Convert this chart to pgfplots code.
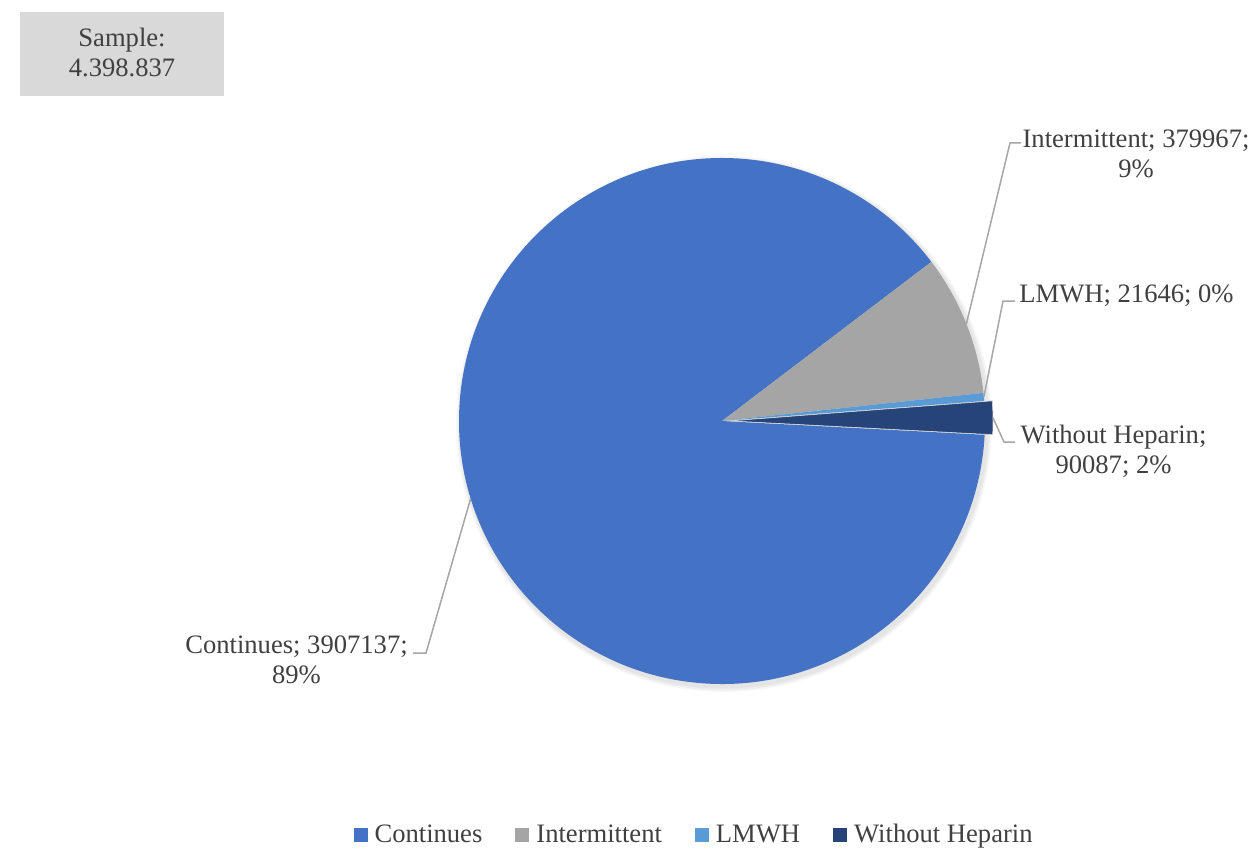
\documentclass[border=0pt]{standalone}
\usepackage{pgfplots}
\usepackage{pgfplotstable}
\pgfplotsset{compat=1.18}
\usepackage{fontspec}
\setmainfont{Liberation Serif}

\definecolor{cCont}{HTML}{4472C4}
\definecolor{cInt}{HTML}{A5A5A5}
\definecolor{cLmwh}{HTML}{5B9BD5}
\definecolor{cWo}{HTML}{264478}
\definecolor{txt}{HTML}{404040}
\definecolor{lead}{HTML}{A6A6A6}
\definecolor{boxbg}{HTML}{D9D9D9}

\pgfplotstableread{
label value
Continues 3907137
Intermittent 379967
LMWH 21646
WithoutHeparin 90087
}\piedata

\newcommand\lbl{\fontsize{13.3}{15}\selectfont}
\def\R{131.5pt}

\begin{document}
\begin{tikzpicture}
% slice sizes in degrees
\pgfkeys{/pgf/fpu=true,/pgf/fpu/output format=fixed}
\pgfplotstablegetelem{0}{value}\of\piedata\let\vA\pgfplotsretval
\pgfplotstablegetelem{1}{value}\of\piedata\let\vB\pgfplotsretval
\pgfplotstablegetelem{2}{value}\of\piedata\let\vC\pgfplotsretval
\pgfplotstablegetelem{3}{value}\of\piedata\let\vD\pgfplotsretval
\pgfmathsetmacro\tot{\vA+\vB+\vC+\vD}
\pgfmathsetmacro\dA{360*\vA/\tot}
\pgfmathsetmacro\dB{360*\vB/\tot}
\pgfmathsetmacro\dC{360*\vC/\tot}
\pgfmathsetmacro\dD{360*\vD/\tot}
\pgfkeys{/pgf/fpu=false}
% clockwise from -3 deg
\pgfmathsetmacro\aA{-3}
\pgfmathsetmacro\aB{\aA-\dA}
\pgfmathsetmacro\aC{\aB-\dB}
\pgfmathsetmacro\aD{\aC-\dC}
\pgfmathsetmacro\aE{\aD-\dD}
\pgfmathsetmacro\mA{(\aA+\aB)/2}
\pgfmathsetmacro\mB{(\aB+\aC)/2}
\pgfmathsetmacro\mC{(\aC+\aD)/2}
\pgfmathsetmacro\mD{(\aD+\aE)/2}

\begin{axis}[
  width=628pt, height=424pt, scale only axis,
  xmin=0, xmax=1256, ymin=0, ymax=848,
  hide axis, clip=false,
  legend columns=4,
  legend cell align=left,
  legend image code/.code={\fill[#1] (0pt,-3.5pt) rectangle (7pt,3.5pt);},
  legend style={draw=none, fill=none, at={(0.5530,0.0153)}, anchor=center,
    font=\lbl, text=txt, nodes={inner sep=1.5pt},
    /tikz/every odd column/.append style={column sep=2pt},
    /tikz/every even column/.append style={column sep=15pt}},
]
\coordinate (bbSW) at (rel axis cs:0,0);
\coordinate (bbNE) at (rel axis cs:1,1);

% soft shadow
\pgfplotsinvokeforeach{1,2,3}{
  \fill[black, opacity=0.035] (axis cs:724,424) circle[radius=131.5pt+#1*0.8pt];
}

% slices
\fill[cCont] (axis cs:722,427) -- ++(\aA:\R) arc[start angle=\aA, end angle=\aB, radius=\R] -- cycle;
\fill[cInt] (axis cs:722,427) -- ++(\aB:\R) arc[start angle=\aB, end angle=\aC, radius=\R] -- cycle;
\fill[cLmwh] (axis cs:722,427) -- ++(\aC:\R) arc[start angle=\aC, end angle=\aD, radius=\R] -- cycle;
\fill[cWo, draw=white!85!black, line width=0.3pt] (axis cs:722,427) ++(\mD:4pt) -- ++(\aD:\R) arc[start angle=\aD, end angle=\aE, radius=\R] -- cycle;

% leader lines
\draw[lead, line width=0.75pt] (axis cs:722,427) ++(\mB:\R) -- (axis cs:1010,705) -- (axis cs:1021,705);
\draw[lead, line width=0.75pt] (axis cs:722,427) ++(\mC:\R) -- (axis cs:1003,547) -- (axis cs:1015,547);
\draw[lead, line width=0.75pt] (axis cs:722,427) ++(\mD:4pt) ++(\mD:\R) -- (axis cs:1004,406) -- (axis cs:1015,406);
\draw[lead, line width=0.75pt] (axis cs:722,427) ++(\mA:\R) -- (axis cs:426,195) -- (axis cs:413,195);

% data labels
\begin{scope}[every node/.style={anchor=north, align=center, inner sep=0pt, font=\lbl, text=txt}]
\node at (axis cs:1136,719) {Intermittent; 379967;\\9\%};
\node at (axis cs:1126.5,564) {LMWH; 21646; 0\%};
\node at (axis cs:1113.5,423) {Without Heparin;\\90087; 2\%};
\node at (axis cs:296.5,213) {Continues; 3907137;\\89\%};
\end{scope}

% sample box
\fill[boxbg] (axis cs:20,752) rectangle (axis cs:224,836);
\node[anchor=north, align=center, inner sep=0pt, font=\lbl, text=txt] at (axis cs:122,820) {Sample:\\4.398.837};

\addlegendimage{fill=cCont, draw=none}
\addlegendentry{Continues}
\addlegendimage{fill=cInt, draw=none}
\addlegendentry{Intermittent}
\addlegendimage{fill=cLmwh, draw=none}
\addlegendentry{LMWH}
\addlegendimage{fill=cWo, draw=none}
\addlegendentry{Without Heparin}
\end{axis}
\pgfresetboundingbox
\path (bbSW) rectangle (bbNE);
\end{tikzpicture}
\end{document}
